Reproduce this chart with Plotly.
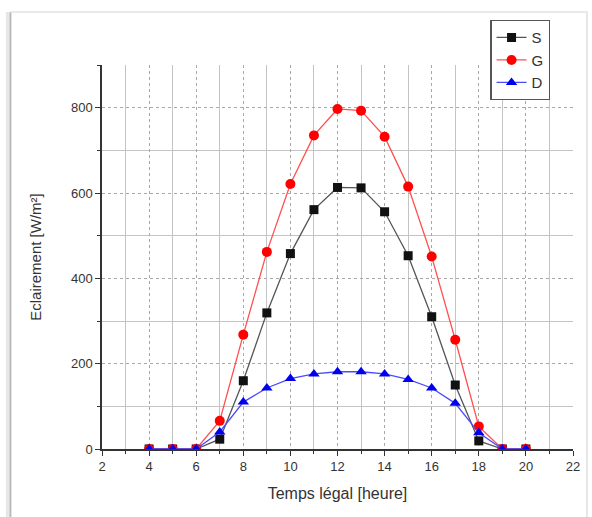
import plotly.graph_objects as go

hours = [4, 5, 6, 7, 8, 9, 10, 11, 12, 13, 14, 15, 16, 17, 18, 19, 20]
S = [0, 0, 0, 23, 160, 319, 458, 561, 613, 612, 556, 453, 310, 150, 19, 0, 0]
G = [0, 0, 0, 66, 268, 462, 621, 735, 797, 793, 732, 615, 451, 256, 53, 0, 0]
D = [0, 0, 0, 40, 110, 143, 165, 176, 181, 181, 176, 163, 143, 107, 38, 0, 0]

series = [
    ("S", S, "#111111", "#555555", "square", 9),
    ("G", G, "#ff0000", "#ff5050", "circle", 10),
    ("D", D, "#0000ee", "#4a4aff", "triangle-up", 10),
]

fig = go.Figure()
for name, vals, mcol, lcol, sym, ms in series:
    fig.add_trace(go.Scatter(
        x=hours, y=vals, name=name, mode="lines+markers",
        line=dict(color=lcol, width=1.3),
        marker=dict(symbol=sym, size=ms, color=mcol),
    ))

axis_font = dict(family="Liberation Sans, Arial", size=13, color="#333333")

fig.update_xaxes(
    range=[2, 22], dtick=2, tick0=2,
    showline=True, linecolor="#333333", linewidth=1.5,
    ticks="outside", ticklen=5, tickwidth=1.3, tickcolor="#333333",
    tickfont=axis_font,
    showgrid=True, gridcolor="#a8a8a8", gridwidth=1, griddash="dot",
    minor=dict(dtick=1, ticks="outside", ticklen=3, tickcolor="#333333",
               showgrid=True, gridcolor="#c4c4c4", gridwidth=1, griddash="solid"),
    zeroline=False,
    title=dict(text="Temps légal [heure]",
               font=dict(family="Liberation Sans, Arial", size=16, color="#333333"),
               standoff=14),
)
fig.update_yaxes(
    range=[0, 900], dtick=200, tick0=0,
    showline=True, linecolor="#333333", linewidth=1.5,
    ticks="outside", ticklen=5, tickwidth=1.3, tickcolor="#333333",
    tickfont=axis_font,
    showgrid=True, gridcolor="#a8a8a8", gridwidth=1, griddash="dot",
    minor=dict(dtick=100, ticks="outside", ticklen=3, tickcolor="#333333",
               showgrid=True, gridcolor="#c4c4c4", gridwidth=1, griddash="solid"),
    zeroline=False,
    title=dict(text="Eclairement [W/m²]",
               font=dict(family="Liberation Sans, Arial", size=15, color="#333333"),
               standoff=26),
)

# frame of the card around the figure
L, R, T, B = 102, 575, 65, 449
def px(x):
    return (x - L) / (R - L)
def py(y):
    return (B - y) / (B - T)

shapes = [
    dict(type="line", xref="paper", yref="paper", x0=px(10), x1=px(10), y0=py(12), y1=py(520),
         line=dict(color="#b8b8b8", width=2)),
    dict(type="line", xref="paper", yref="paper", x0=px(7), x1=px(7), y0=py(12), y1=py(520),
         line=dict(color="#e6e6e6", width=3)),
    dict(type="line", xref="paper", yref="paper", x0=px(10), x1=px(590), y0=py(12), y1=py(12),
         line=dict(color="#e2e2e2", width=1.5)),
    dict(type="line", xref="paper", yref="paper", x0=px(589), x1=px(589), y0=py(12), y1=py(520),
         line=dict(color="#e6e6e6", width=2)),
]

fig.update_layout(
    width=592, height=517,
    margin=dict(l=L, r=592 - R, t=T, b=517 - B),
    paper_bgcolor="white", plot_bgcolor="white",
    showlegend=True,
    legend=dict(
        x=px(492), y=py(20), xanchor="left", yanchor="top",
        bgcolor="white", bordercolor="#555555", borderwidth=1.2,
        font=dict(family="Liberation Sans, Arial", size=15, color="#333333"),
        itemwidth=30, tracegroupgap=0,
    ),
    shapes=shapes,
)

fig.write_html("out.html")
